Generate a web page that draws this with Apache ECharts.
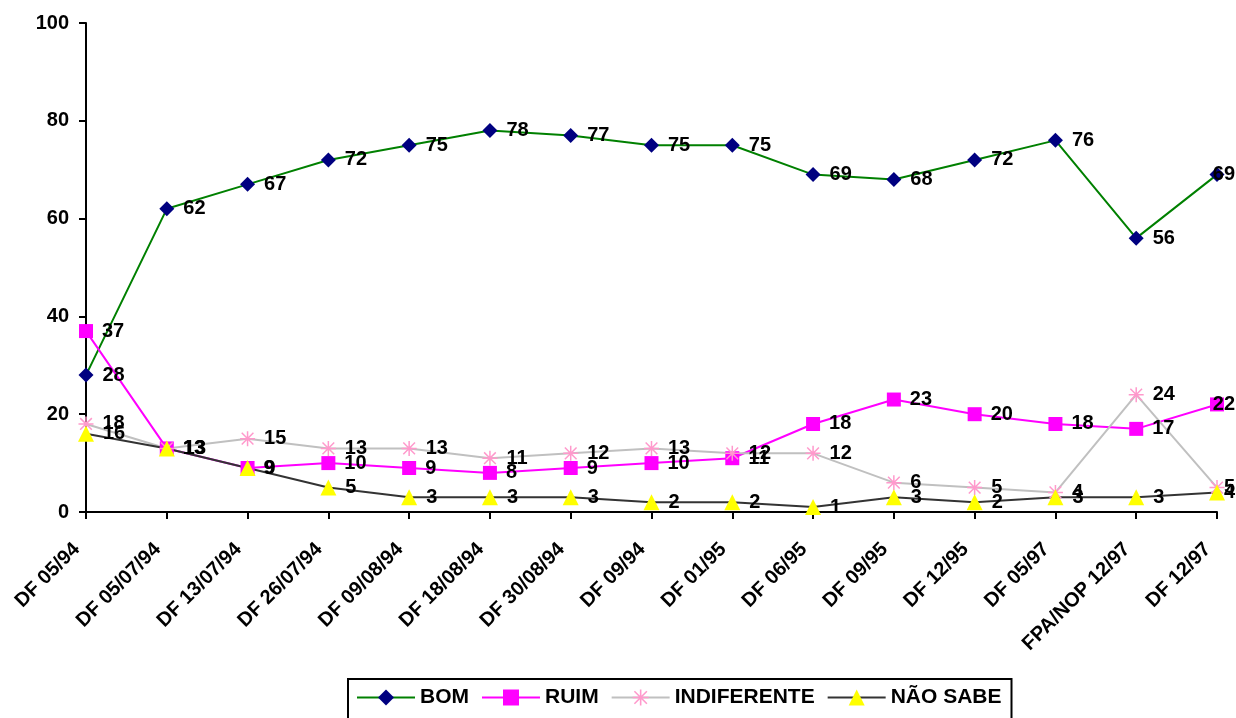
<!DOCTYPE html>
<html>
<head>
<meta charset="utf-8">
<script src="https://cdn.jsdelivr.net/npm/echarts@6/dist/echarts.min.js"></script>
<style>html,body{margin:0;padding:0;background:#fff}#c{width:1236px;height:718px}</style>
</head>
<body>
<div id="c"></div>
<script>
const categories = ['DF 05/94','DF 05/07/94','DF 13/07/94','DF 26/07/94','DF 09/08/94','DF 18/08/94','DF 30/08/94','DF 09/94','DF 01/95','DF 06/95','DF 09/95','DF 12/95','DF 05/97','FPA/NOP 12/97','DF 12/97'];
const bom = [28,62,67,72,75,78,77,75,75,69,68,72,76,56,69];
const ruim = [37,13,9,10,9,8,9,10,11,18,23,20,18,17,22];
const indiferente = [18,13,15,13,13,11,12,13,12,12,6,5,4,24,5];
const naoSabe = [16,13,9,5,3,3,3,2,2,1,3,2,3,3,4];
const yTicks = [0,20,40,60,80,100];

const asterisk = 'path://M9,0L11,0L11,20L9,20Z M1.5,2.9L2.9,1.5L18.5,17.1L17.1,18.5Z M17.1,1.5L18.5,2.9L2.9,18.5L1.5,17.1Z M0,9L20,9L20,11L0,11Z';
const font = '"Liberation Sans", Arial, sans-serif';
const lbl = {show:true, position:'right', distance:9, color:'#000', fontWeight:'bold', fontSize:20, fontFamily:font};
const W = 1236;
function fitLabel(p){
  const r = p.labelRect;
  if (r && r.x + r.width > W - 1) {
    return {x: W - 1 - r.width, y: r.y + r.height/2, align:'left', verticalAlign:'middle'};
  }
  return {};
}

const chart = echarts.init(document.getElementById('c'), null, {renderer:'canvas'});
chart.setOption({
  animation:false,
  backgroundColor:'#fff',
  grid:{left:86, right:19, top:23, bottom:206},
  legend:{
    top:679, left:348,
    padding:[8,10,20,8],
    borderColor:'#000', borderWidth:2,
    itemWidth:58, itemHeight:20, itemGap:12,
    textStyle:{color:'#000', fontWeight:'bold', fontSize:21, fontFamily:font},
    data:['BOM','RUIM','INDIFERENTE','NÃO SABE']
  },
  xAxis:{
    type:'category', data:categories, boundaryGap:false,
    axisLine:{lineStyle:{color:'#000', width:2}},
    axisTick:{show:true, length:7, lineStyle:{color:'#000', width:2}},
    axisLabel:{rotate:45, color:'#000', fontWeight:'bold', fontSize:20, fontFamily:font, margin:25, padding:[0,13,0,0], interval:0}
  },
  yAxis:{
    type:'value', min:0, max:100, interval:20,
    splitLine:{show:false},
    axisLine:{show:true, lineStyle:{color:'#000', width:2}},
    axisTick:{show:true, length:7, lineStyle:{color:'#000', width:2}},
    axisLabel:{color:'#000', fontWeight:'bold', fontSize:20, fontFamily:font, margin:17,
      formatter:v=>yTicks.includes(v)?String(v):''}
  },
  series:[
    {name:'BOM', type:'line', data:bom, symbol:'diamond', symbolSize:15,
      lineStyle:{color:'#008000', width:2}, itemStyle:{color:'#000080'}, label:lbl, labelLayout:fitLabel},
    {name:'RUIM', type:'line', data:ruim, symbol:'rect', symbolSize:14,
      lineStyle:{color:'#FF00FF', width:2}, itemStyle:{color:'#FF00FF'}, label:lbl, labelLayout:fitLabel},
    {name:'INDIFERENTE', type:'line', data:indiferente, symbol:asterisk, symbolSize:15,
      lineStyle:{color:'#C0C0C0', width:2}, itemStyle:{color:'#FF99CC'}, label:lbl, labelLayout:fitLabel},
    {name:'NÃO SABE', type:'line', data:naoSabe, symbol:'triangle', symbolSize:16,
      lineStyle:{color:'#333333', width:2}, itemStyle:{color:'#FFFF00'}, label:lbl, labelLayout:fitLabel}
  ]
});
</script>
</body>
</html>
